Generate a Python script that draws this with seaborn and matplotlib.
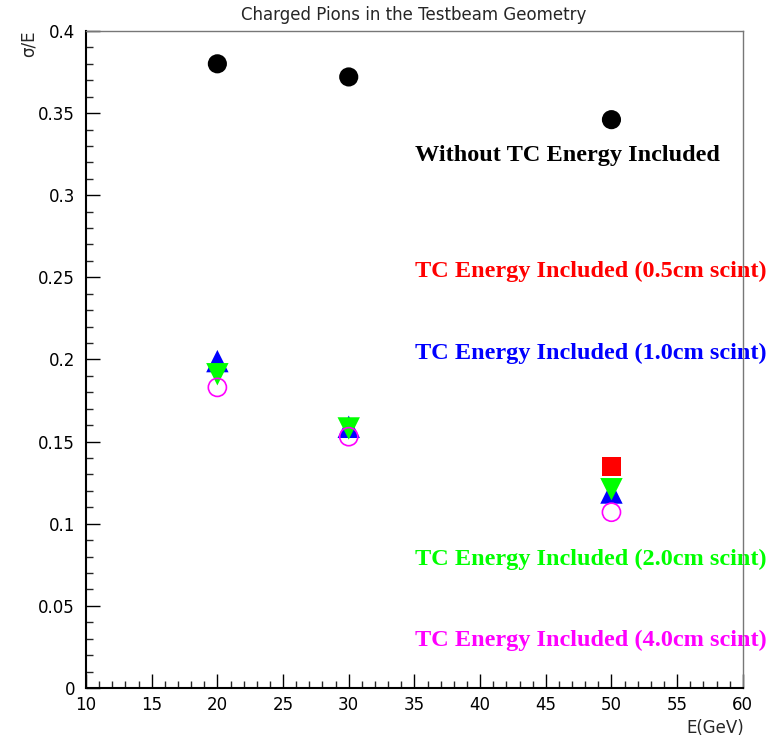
import matplotlib
matplotlib.use("Agg")
import matplotlib.pyplot as plt
import seaborn as sns
import pandas as pd
from matplotlib.ticker import MultipleLocator

sns.set_style("white")
plt.rcParams['font.family'] = ['DejaVu Sans']

energy = [20, 30, 50]
no_tc = [0.380, 0.372, 0.346]
tc_05_e = [50]
tc_05 = [0.135]
tc_10 = [0.199, 0.159, 0.119]
tc_20 = [0.191, 0.158, 0.121]
tc_40 = [0.183, 0.153, 0.107]

labels = ["Without TC Energy Included",
          "TC Energy Included (0.5cm scint)",
          "TC Energy Included (1.0cm scint)",
          "TC Energy Included (2.0cm scint)",
          "TC Energy Included (4.0cm scint)"]
label_y = [0.3209, 0.2502, 0.2003, 0.0749, 0.0256]
colors = ["black", "#ff0000", "#0000ff", "#00ff00", "#ff00ff"]

fig = plt.figure(figsize=(7.7, 7.37), dpi=100)
ax = fig.add_axes([0.1117, 0.0665, 0.853, 0.8915])

series = [
    (energy, no_tc, "o", colors[0], True, 190),
    (tc_05_e, tc_05, "s", colors[1], True, 190),
    (energy, tc_10, "^", colors[2], True, 260),
    (energy, tc_20, "v", colors[3], True, 260),
    (energy, tc_40, "o", colors[4], False, 170),
]
for xs, ys, m, c, filled, sz in series:
    df = pd.DataFrame({"E": xs, "s": ys})
    if filled:
        sns.scatterplot(data=df, x="E", y="s", marker=m, color=c, s=sz,
                        edgecolor="none", ax=ax, zorder=3)
    else:
        sns.scatterplot(data=df, x="E", y="s", marker=m, s=sz,
                        facecolor="none", edgecolor=c, linewidth=1.2, ax=ax, zorder=3)

for lab, yv, c in zip(labels, label_y, colors):
    ax.text(35.05, yv, lab, color=c, fontsize=17.5, fontweight="bold",
            family="Liberation Serif", va="baseline", ha="left", clip_on=False,
            zorder=1)

ax.set_xlim(10, 60)
ax.set_ylim(0, 0.4)
ax.xaxis.set_minor_locator(MultipleLocator(1))
ax.yaxis.set_minor_locator(MultipleLocator(0.01))
ax.set_xticks(range(10, 61, 5))
ax.set_xticklabels([str(v) for v in range(10, 61, 5)])
yt = [0, 0.05, 0.1, 0.15, 0.2, 0.25, 0.3, 0.35, 0.4]
ax.set_yticks(yt)
ax.set_yticklabels(["0", "0.05", "0.1", "0.15", "0.2", "0.25", "0.3", "0.35", "0.4"])
ax.tick_params(axis="both", which="major", direction="in", length=10, width=1,
               labelsize=12, colors="black", top=False, right=False,
               bottom=True, left=True)
ax.tick_params(axis="x", which="major", pad=6)
ax.tick_params(axis="y", which="major", pad=8)
ax.tick_params(axis="both", which="minor", direction="in", length=5, width=1,
               top=False, right=False, bottom=True, left=True)
for side in ["left", "bottom"]:
    ax.spines[side].set_color("black")
    ax.spines[side].set_linewidth(1.5)
for side in ["top", "right"]:
    ax.spines[side].set_color("#777777")
    ax.spines[side].set_linewidth(1.0)
ax.set_xlabel("")
ax.set_ylabel("")
fig.text(0.537, 0.979, "Charged Pions in the Testbeam Geometry", ha="center",
         va="center", fontsize=12)
fig.text(0.037, 0.94, "σ/E", rotation=90, ha="center", va="center", fontsize=12)
fig.text(0.967, 0.012, "E(GeV)", ha="right", va="center", fontsize=12)

fig.savefig("out.png", dpi=100)
